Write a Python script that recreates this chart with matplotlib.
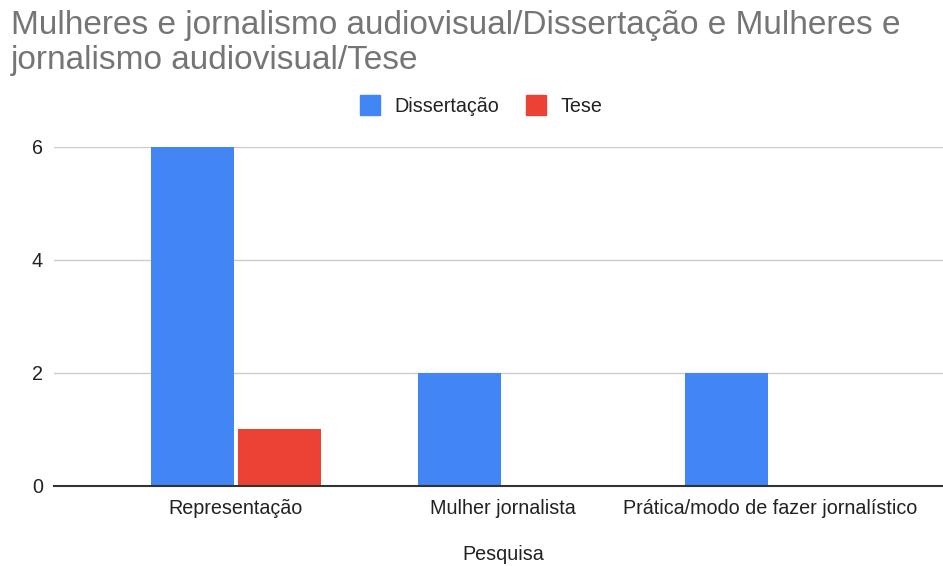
import matplotlib.pyplot as plt
from matplotlib.lines import Line2D
import numpy as np

# --- Data ---
categorias = ['Representação', 'Mulher jornalista', 'Prática/modo de fazer jornalístico']
dissertacao = [6, 2, 2]
tese = [1, 0, 0]

titulo = 'Mulheres e jornalismo audiovisual/Dissertação e Mulheres e\njornalismo audiovisual/Tese'
cor_diss = '#4285f4'
cor_tese = '#ea4335'

plt.rcParams['font.family'] = ['Liberation Sans', 'DejaVu Sans']

W, H = 943, 566
fig = plt.figure(figsize=(W / 100, H / 100), dpi=100)

# axes placement in pixels
left, right, top, bottom = 54, 943, 147, 485.5
ax = fig.add_axes([left / W, 1 - bottom / H, (right - left) / W, (bottom - top) / H])

x = np.arange(len(categorias))
largura = 0.311
desloc = 0.163
ax.bar(x - desloc, dissertacao, largura, color=cor_diss, zorder=3)
ax.bar(x + desloc, tese, largura, color=cor_tese, zorder=3)

# x range: category centers at 236, 503, 770 px
px_per_cat = 267
ax.set_xlim((left - 236) / px_per_cat, (right - 236) / px_per_cat)
ax.set_ylim(0, 6)
ax.set_yticks([0, 2, 4, 6])
ax.set_xticks(x)
ax.set_xticklabels(categorias)
ax.tick_params(axis='both', length=0, labelsize=14.2, colors='#222222')
ax.tick_params(axis='y', pad=8)
ax.tick_params(axis='x', pad=10)

ax.yaxis.grid(True, color='#cccccc', linewidth=1, zorder=0)
for s in ['top', 'right', 'left']:
    ax.spines[s].set_visible(False)
ax.spines['bottom'].set_color('#333333')
ax.spines['bottom'].set_linewidth(1.5)
ax.spines['bottom'].set_zorder(4)

fig.text(503 / W, 1 - 554 / H, 'Pesquisa', ha='center', va='center', fontsize=14.2, color='#222222')

fig.text(11 / W, 1 - 10 / H, titulo, ha='left', va='top', fontsize=24, color='#757575', linespacing=1.15)

handles = [
    Line2D([], [], marker='s', linestyle='none', markersize=14.4, color=cor_diss),
    Line2D([], [], marker='s', linestyle='none', markersize=14.4, color=cor_tese),
]
leg = fig.legend(handles, ['Dissertação', 'Tese'], loc='center', bbox_to_anchor=(481 / W, 1 - 106 / H),
                 ncol=2, frameon=False, fontsize=14.2, handletextpad=0.7, columnspacing=1.4,
                 handlelength=1.03)
for t in leg.get_texts():
    t.set_color('#222222')

fig.savefig('out.png', dpi=100)
